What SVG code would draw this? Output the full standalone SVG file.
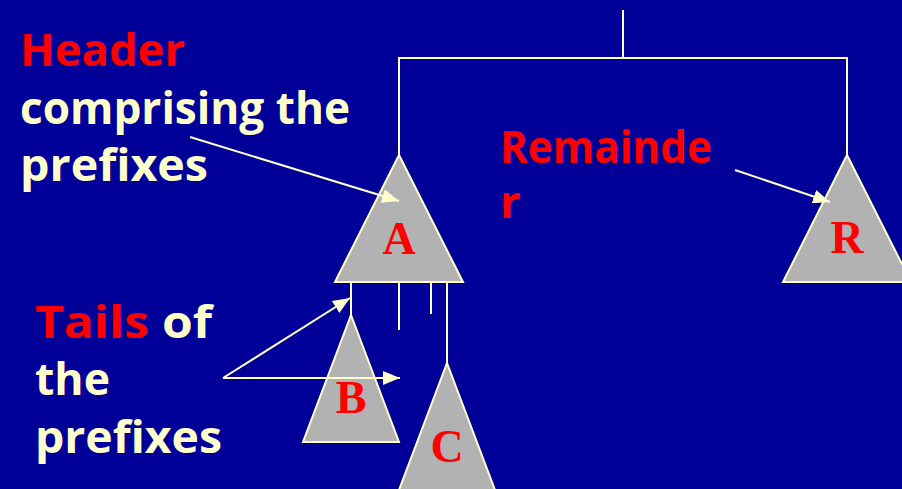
<svg xmlns="http://www.w3.org/2000/svg" width="902" height="489" viewBox="0 0 902 489">
<defs>
<style>
.ln{stroke:#FFFFCC;stroke-width:2;fill:none}
.tri{fill:#B2B2B2;stroke:#FFFFCC;stroke-width:2}
.lbl{font-family:"Liberation Serif","Times New Roman",serif;font-weight:bold;font-size:46px;fill:#FF0000;text-anchor:middle}
.txt{font-family:"Open Sans","Liberation Sans",sans-serif;font-weight:bold;font-size:45px;fill:#FFFFCC}
.red{fill:#FF0000}
</style>
<marker id="ah2" viewBox="0 0 10 10" refX="10" refY="5" markerWidth="17" markerHeight="14" markerUnits="userSpaceOnUse" orient="auto" preserveAspectRatio="none">
<path d="M0,0 L10,5 L0,10 Z" fill="#FFFFCC"/>
</marker>
</defs>
<rect width="902" height="489" fill="#000099"/>
<g id="nodeA">
<polygon class="tri" points="399,155 463,282 335,282"/>
<text class="lbl" x="399" y="254">A</text>
</g>
<g id="nodeR">
<polygon class="tri" points="847,155 911,282 783,282"/>
<text class="lbl" x="847" y="253">R</text>
</g>
<g id="nodeB">
<polygon class="tri" points="351,315 399,442 303,442"/>
<text class="lbl" x="351" y="413">B</text>
</g>
<g id="nodeC">
<polygon class="tri" points="447,363 495,490 399,490"/>
<text class="lbl" x="447" y="462">C</text>
</g>
<g id="connectors">
<path class="ln" d="M623,10 V58 M399,155 V58 H847 V155"/>
<path class="ln" d="M351,282 V315 M399,282 V330 M431,282 V314 M447,282 V363"/>
<line class="ln" x1="190" y1="137" x2="399" y2="201" marker-end="url(#ah2)"/>
<line class="ln" x1="735" y1="170" x2="830" y2="202" marker-end="url(#ah2)"/>
<line class="ln" x1="223" y1="378" x2="350" y2="298" marker-end="url(#ah2)"/>
<line class="ln" x1="223" y1="378" x2="400" y2="378" marker-end="url(#ah2)"/>
</g>
<g id="labels">
<text class="txt red" x="20" y="66" textLength="165" lengthAdjust="spacingAndGlyphs">Header</text>
<text class="txt" x="20" y="124" textLength="330" lengthAdjust="spacingAndGlyphs">comprising the</text>
<text class="txt" x="20" y="181" textLength="188" lengthAdjust="spacingAndGlyphs">prefixes</text>
<text class="txt red" x="500" y="163" textLength="212" lengthAdjust="spacingAndGlyphs">Remainde</text>
<text class="txt red" x="500" y="218">r</text>
<text class="txt" x="35" y="338" textLength="177" lengthAdjust="spacingAndGlyphs"><tspan class="red">Tails</tspan> of</text>
<text class="txt" x="35" y="395" textLength="75" lengthAdjust="spacingAndGlyphs">the</text>
<text class="txt" x="35" y="453" textLength="187" lengthAdjust="spacingAndGlyphs">prefixes</text>
</g>
</svg>
